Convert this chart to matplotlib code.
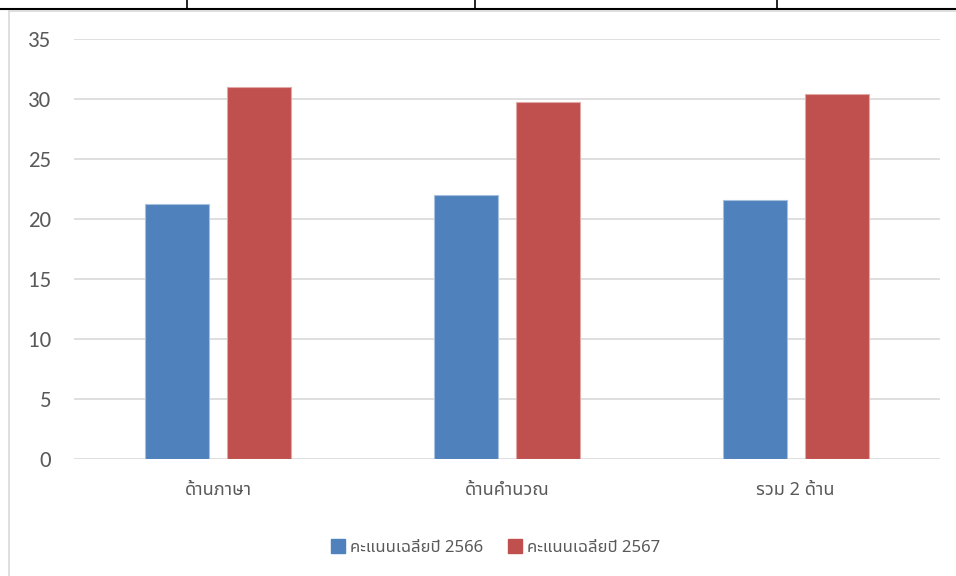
import numpy as np
import matplotlib
matplotlib.use("Agg")
import matplotlib.pyplot as plt
from matplotlib.lines import Line2D

categories = ["ด้านภาษา", "ด้านคำนวณ", "รวม 2 ด้าน"]
series_names = ["คะแนนเฉลี่ยปี 2566", "คะแนนเฉลี่ยปี 2567"]
scores_2566 = [21.25, 22.0, 21.6]
scores_2567 = [31.0, 29.75, 30.4]
colors = ["#4F81BD", "#C0504D"]
edges = ["#A7C0DE", "#E0A8A6"]

thai_font = ["Noto Sans Thai", "Anuphan", "DejaVu Sans"]
num_font = ["Carlito", "Open Sans", "DejaVu Sans"]
text_grey = "#595959"

W, H = 956, 576
fig = plt.figure(figsize=(W / 100, H / 100), dpi=100)
ax = fig.add_axes([74 / W, 1 - 459 / H, (940 - 74) / W, (459 - 39) / H])

x = np.arange(len(categories))
bw = 0.222
off = 0.142
ax.bar(x - off, scores_2566, bw, color=colors[0], edgecolor=edges[0], linewidth=0.8,
       label=series_names[0], zorder=3)
ax.bar(x + off, scores_2567, bw, color=colors[1], edgecolor=edges[1], linewidth=0.8,
       label=series_names[1], zorder=3)

ax.set_xlim(-0.5, 2.5)
ax.set_ylim(0, 35)
ax.set_yticks(np.arange(0, 36, 5))
ax.grid(axis="y", color="#D9D9D9", linewidth=1.2, zorder=0)
ax.set_axisbelow(True)
for s in ax.spines.values():
    s.set_visible(False)
ax.tick_params(axis="both", length=0)
ax.tick_params(axis="y", pad=16.5, labelcolor=text_grey)
ax.tick_params(axis="x", pad=16, labelcolor=text_grey)
ax.set_xticks(x)
ax.set_xticklabels(categories, family=thai_font, fontsize=13)
for t in ax.get_yticklabels():
    t.set_family(num_font)
    t.set_fontsize(16.5)

handles = [Line2D([], [], marker="s", linestyle="none", markersize=10,
                  markerfacecolor=c, markeredgecolor=c) for c in colors]
fig.legend(handles, series_names, loc="center", bbox_to_anchor=(495 / W, 1 - 548 / H),
           ncol=2, frameon=False, prop={"family": thai_font, "size": 12},
           labelcolor=text_grey, handletextpad=0.2, columnspacing=1.4, handlelength=1.0)

# page frame around the chart
fig.add_artist(Line2D([0, 1], [1 - 8.5 / H] * 2, color="black", linewidth=1.5,
                      transform=fig.transFigure))
for xv in [187, 475, 777]:
    fig.add_artist(Line2D([xv / W] * 2, [1, 1 - 8.5 / H], color="black", linewidth=1.2,
                          transform=fig.transFigure))
fig.add_artist(Line2D([9 / W, 1], [1 - 10.5 / H] * 2, color="#D9D9D9", linewidth=1.2,
                      transform=fig.transFigure))
fig.add_artist(Line2D([9 / W] * 2, [0, 1 - 10.5 / H], color="#D9D9D9", linewidth=1.2,
                      transform=fig.transFigure))

fig.savefig("out.png", dpi=100)
